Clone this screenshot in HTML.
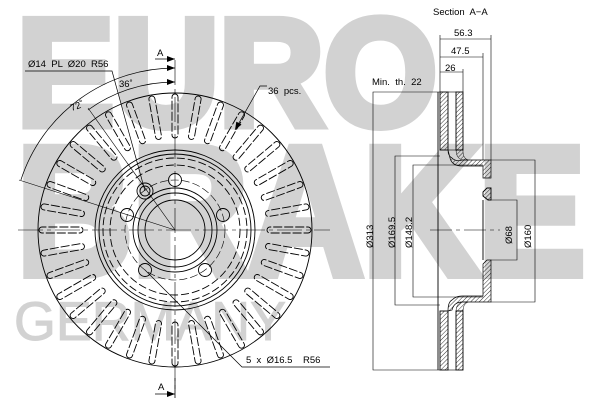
<!DOCTYPE html>
<html><head><meta charset="utf-8"><style>html,body{margin:0;padding:0;background:#fff}svg{display:block}text{white-space:pre}</style></head><body>
<svg width="600" height="400" viewBox="0 0 600 400" xmlns="http://www.w3.org/2000/svg" font-family="Liberation Sans, sans-serif">
<defs>
<pattern id="h" width="3" height="3" patternUnits="userSpaceOnUse" patternTransform="rotate(45)"><line x1="0" y1="0" x2="0" y2="3" stroke="#000" stroke-width="0.8"/></pattern>
<marker id="ar" markerWidth="8" markerHeight="6" refX="8" refY="3" orient="auto" markerUnits="userSpaceOnUse"><path d="M0,0 L8,3 L0,6z" fill="#000"/></marker>
</defs>
<!-- watermark -->
<g fill="#d2d2d2" stroke="#d2d2d2" stroke-linejoin="miter">
<text x="17" y="125" font-size="152" font-weight="bold" textLength="420" lengthAdjust="spacingAndGlyphs" stroke-width="9">EURO</text>
<text x="17" y="274" font-size="182" font-weight="bold" textLength="568" lengthAdjust="spacingAndGlyphs" stroke-width="10">BRAKE</text>
<text x="14" y="340" font-size="55" textLength="272" lengthAdjust="spacingAndGlyphs" stroke-width="1">GERMANY</text>
</g>
<g fill="none" stroke="#000" stroke-width="0.9">
<!-- front view -->
<circle cx="175" cy="230" r="137"/>
<circle cx="175" cy="230" r="80"/>
<circle cx="175" cy="230" r="76"/>
<circle cx="175" cy="230" r="72" stroke-dasharray="8 3"/>
<circle cx="175" cy="230" r="65" stroke-dasharray="8 3"/>
<circle cx="175" cy="230" r="50" stroke-dasharray="8 3" stroke-width="0.6"/>
<circle cx="175" cy="230" r="42"/>
<circle cx="175" cy="230" r="37"/>
<circle cx="175" cy="230" r="30"/>
<g id="slots">
<g id="s"><rect x="172" y="94" width="6" height="44" rx="3" stroke-dasharray="9 2"/></g>
</g>
<g>
<use href="#s" transform="rotate(10 175 230)"/><use href="#s" transform="rotate(20 175 230)"/><use href="#s" transform="rotate(30 175 230)"/><use href="#s" transform="rotate(40 175 230)"/><use href="#s" transform="rotate(50 175 230)"/><use href="#s" transform="rotate(60 175 230)"/><use href="#s" transform="rotate(70 175 230)"/><use href="#s" transform="rotate(80 175 230)"/><use href="#s" transform="rotate(90 175 230)"/><use href="#s" transform="rotate(100 175 230)"/><use href="#s" transform="rotate(110 175 230)"/><use href="#s" transform="rotate(120 175 230)"/><use href="#s" transform="rotate(130 175 230)"/><use href="#s" transform="rotate(140 175 230)"/><use href="#s" transform="rotate(150 175 230)"/><use href="#s" transform="rotate(160 175 230)"/><use href="#s" transform="rotate(170 175 230)"/><use href="#s" transform="rotate(180 175 230)"/><use href="#s" transform="rotate(190 175 230)"/><use href="#s" transform="rotate(200 175 230)"/><use href="#s" transform="rotate(210 175 230)"/><use href="#s" transform="rotate(220 175 230)"/><use href="#s" transform="rotate(230 175 230)"/><use href="#s" transform="rotate(240 175 230)"/><use href="#s" transform="rotate(250 175 230)"/><use href="#s" transform="rotate(260 175 230)"/><use href="#s" transform="rotate(270 175 230)"/><use href="#s" transform="rotate(280 175 230)"/><use href="#s" transform="rotate(290 175 230)"/><use href="#s" transform="rotate(300 175 230)"/><use href="#s" transform="rotate(310 175 230)"/><use href="#s" transform="rotate(320 175 230)"/><use href="#s" transform="rotate(330 175 230)"/><use href="#s" transform="rotate(340 175 230)"/><use href="#s" transform="rotate(350 175 230)"/>
</g>
<!-- bolt holes -->
<circle cx="175" cy="180" r="6.5"/>
<circle cx="127" cy="215" r="6.5"/>
<circle cx="223" cy="215" r="6.5"/>
<circle cx="145" cy="270" r="6.5"/>
<circle cx="205" cy="270" r="6.5"/>
<circle cx="145" cy="191" r="8"/>
<circle cx="145" cy="191" r="5"/>
<!-- center lines -->
<line x1="18" y1="230" x2="330" y2="230" stroke-width="0.6" stroke-dasharray="25 4 4 4"/>
<line x1="175" y1="60" x2="175" y2="390" stroke-width="0.6" stroke-dasharray="25 4 4 4"/>
<!-- angle lines -->
<line x1="175" y1="230" x2="19" y2="180" stroke-width="0.6"/>
<line x1="175" y1="230" x2="88" y2="108" stroke-width="0.6"/>
<path d="M20.9,180 A162,162 0 0 1 175,68" marker-end="url(#ar)" stroke-width="0.7"/>
<path d="M88,110 A148,148 0 0 1 175,82" marker-end="url(#ar)" stroke-width="0.7"/>
<!-- section markers -->
<line x1="155" y1="59" x2="175" y2="59" marker-end="url(#ar)" stroke-width="0.7"/>
<line x1="155" y1="394" x2="175" y2="394" marker-end="url(#ar)" stroke-width="0.7"/>
<line x1="175" y1="378" x2="175" y2="398" stroke-width="0.8"/>
<!-- leaders -->
<polyline points="25,71 112,71 145,191" stroke-width="0.7"/>
<polyline points="330,367 242,367 145,270" stroke-width="0.7"/>
<polyline points="267,86 260,86 235,130" marker-end="url(#ar)" stroke-width="0.7"/>
</g>
<g font-size="9.5" fill="#000">
<text x="157" y="56">A</text>
<text x="158" y="390">A</text>
<text x="28" y="67">Ø14  PL  Ø20  R56</text>
<text x="246" y="363">5  x  Ø16.5    R56</text>
<text x="268" y="94">36  pcs.</text>
<text x="119" y="87">36˚</text>
<text x="70" y="110" transform="rotate(-20 74 106)">72˚</text>
<text x="433" y="15">Section  A−A</text>
<text x="372" y="85">Min.  th.  22</text>
<text x="454" y="36">56.3</text>
<text x="451" y="54">47.5</text>
<text x="445" y="71">26</text>
<text transform="translate(373 248) rotate(-90)">Ø313</text>
<text transform="translate(395 248) rotate(-90)">Ø169.5</text>
<text transform="translate(412 248) rotate(-90)">Ø148.2</text>
<text transform="translate(512 244) rotate(-90)">Ø68</text>
<text transform="translate(531 248) rotate(-90)">Ø160</text>
</g>
<!-- section view -->
<g stroke="#000" stroke-width="0.9">
<rect x="440" y="92" width="8" height="58" fill="url(#h)"/>
<rect x="456" y="92" width="7" height="58" fill="url(#h)"/>
<rect x="440" y="311" width="8" height="59" fill="url(#h)"/>
<rect x="456" y="311" width="7" height="59" fill="url(#h)"/>
<path d="M448,150 Q448,156 452,158 Q456,162 462,160 L491,160 L491,178 L483,178 L483,166 L462,166 Q452,166 450,158 Z" fill="url(#h)" stroke-width="0.7"/>
<path d="M456,150 L463,150 L463,152 Q463,158 468,160 L462,160 Q456,158 456,150Z" fill="url(#h)" stroke-width="0.5"/>
<path d="M483,192 L487,188 L491,188 L491,200 L488,200 L483,196Z" fill="url(#h)"/>
<path d="M483,264 L487,260 L491,260 L491,302 L462,302 Q454,302 452,310 L448,311 Q448,302 452,300 Q456,296 462,296 L483,296 Z" fill="url(#h)" stroke-width="0.7"/>
<path d="M456,311 Q456,304 462,302 L468,302 Q463,304 463,311Z" fill="url(#h)" stroke-width="0.5"/>
<line x1="438" y1="92" x2="438" y2="370"/>
<line x1="483" y1="200" x2="483" y2="260"/>
</g>
<g fill="none" stroke="#000" stroke-width="0.6">
<line x1="448" y1="92" x2="456" y2="92"/><line x1="448" y1="150" x2="456" y2="150"/>
<line x1="448" y1="370" x2="456" y2="370"/>
<!-- dims -->
<line x1="440" y1="92" x2="440" y2="35"/>
<line x1="491" y1="160" x2="491" y2="35"/>
<line x1="483" y1="160" x2="483" y2="53"/>
<line x1="463" y1="92" x2="463" y2="69"/>
<line x1="440" y1="39" x2="491" y2="39"/>
<line x1="440" y1="57" x2="483" y2="57"/>
<line x1="440" y1="72" x2="463" y2="72"/>
<polyline points="440,92 373,92 373,370 440,370"/>
<polyline points="440,156 395,156 395,305 440,305"/>
<polyline points="483,165 413,165 413,297 483,297"/>
<polyline points="491,200 517,200 517,260 491,260"/>
<polyline points="491,160 535,160 535,302 491,302"/>
<line x1="430" y1="230" x2="500" y2="230" stroke-dasharray="22 4 4 4"/>
</g>
</svg>
</body></html>
